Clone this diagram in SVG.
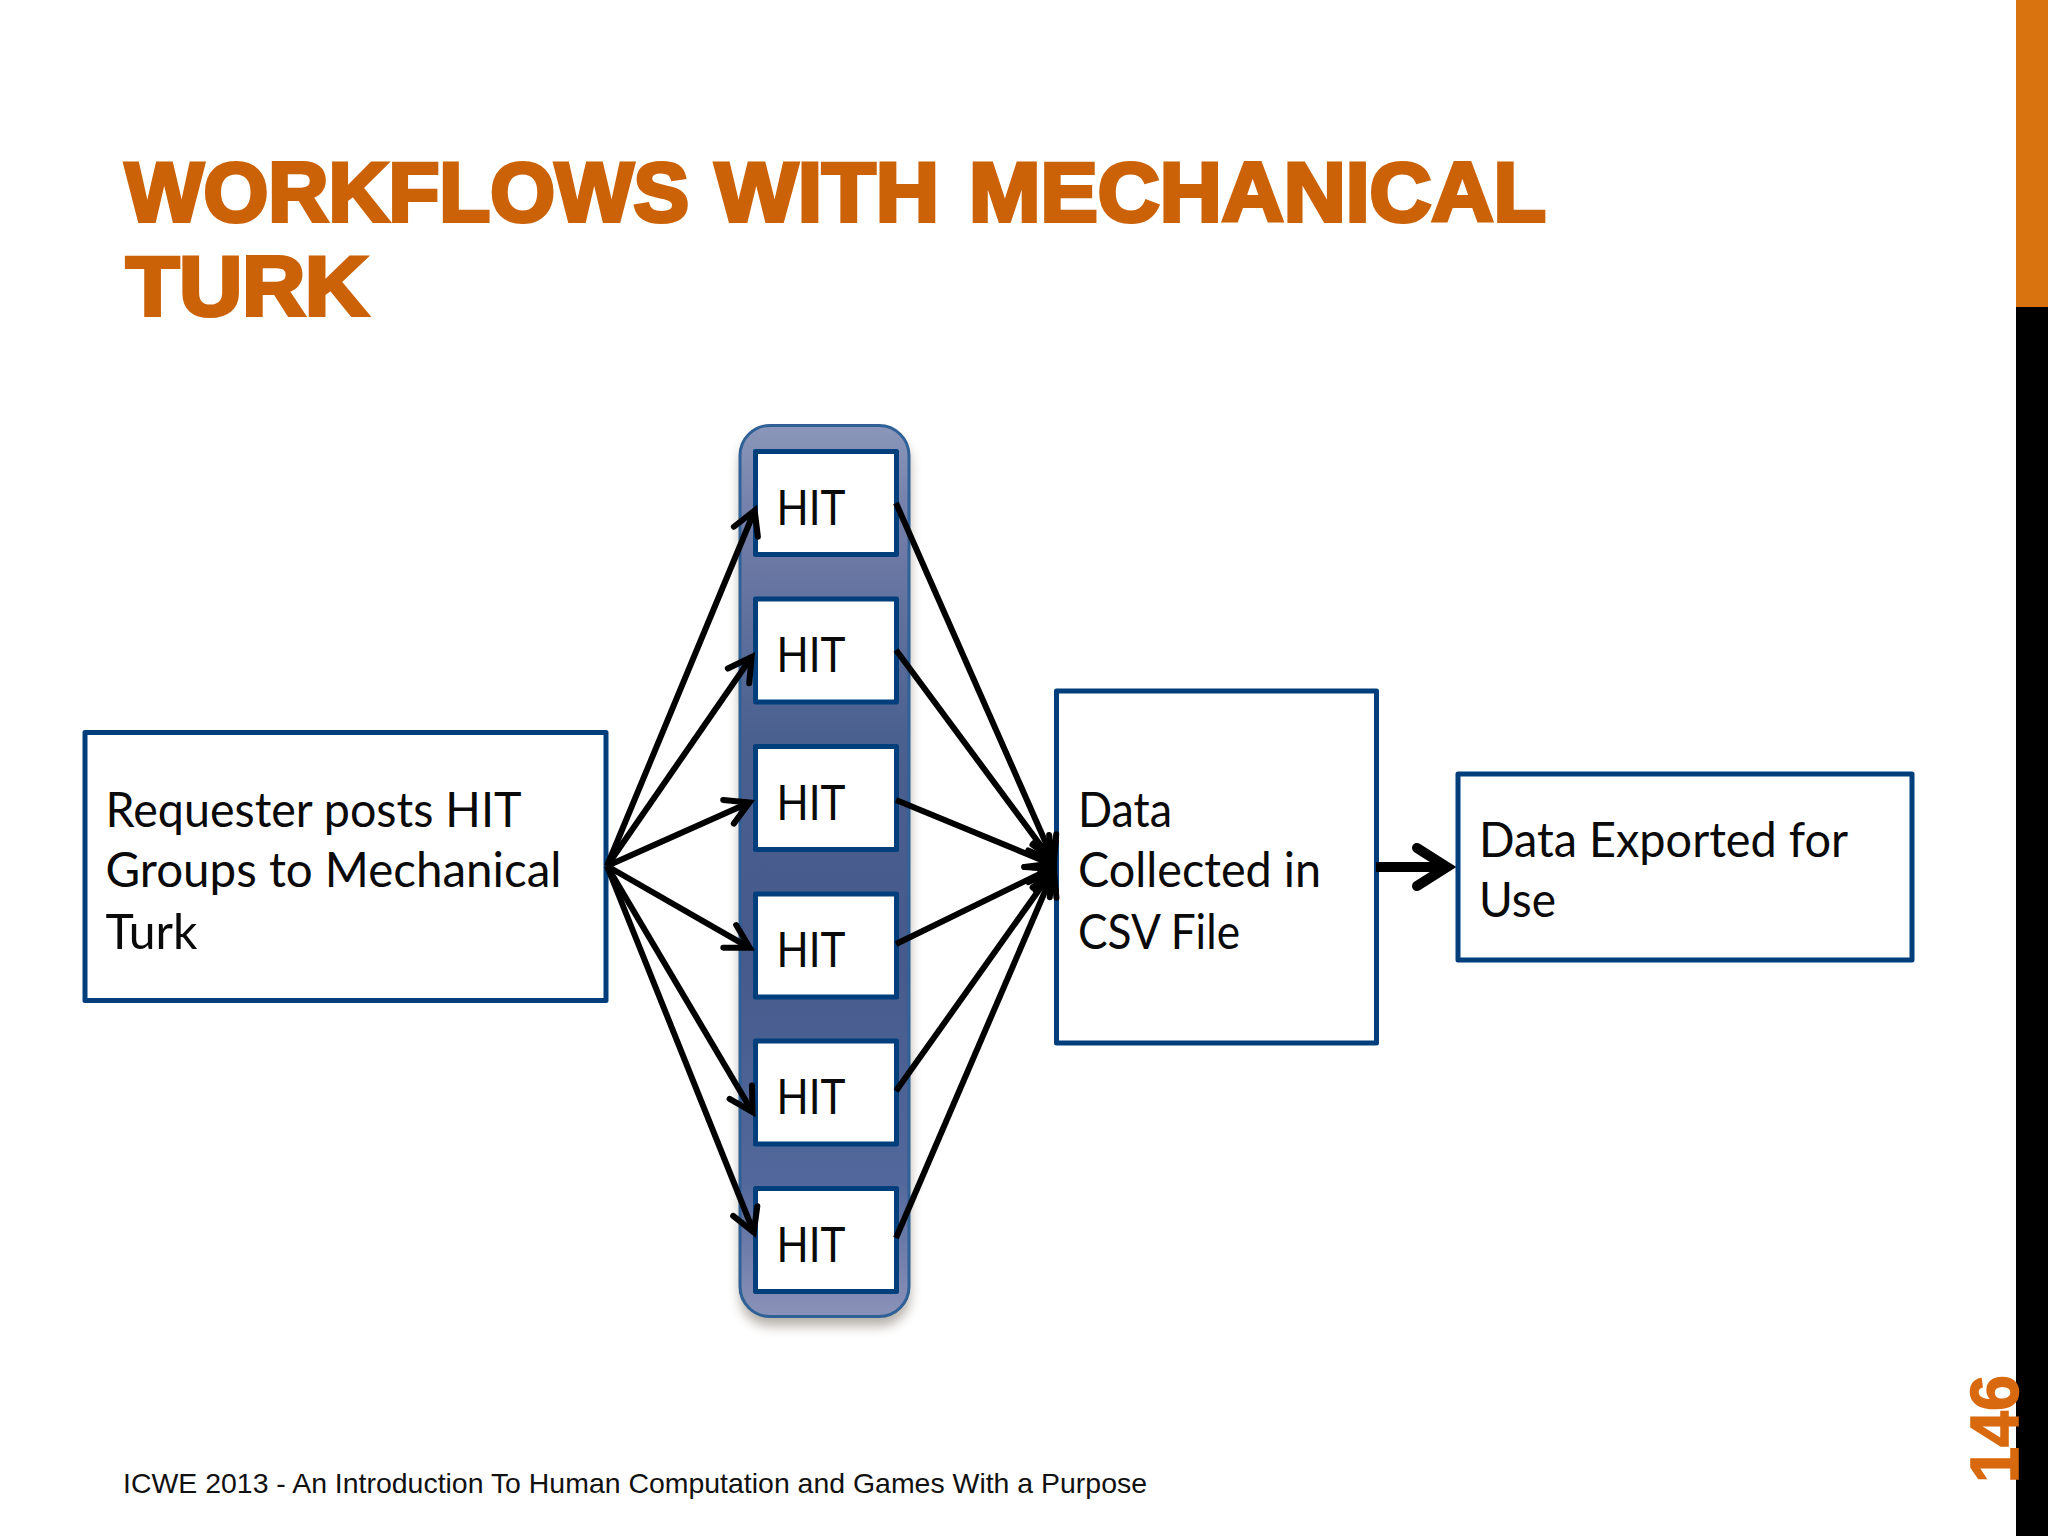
<svg xmlns="http://www.w3.org/2000/svg" width="2048" height="1536" viewBox="0 0 2048 1536">
<style>
.box{fill:#fff;stroke:#003e7c;stroke-width:5;stroke-linejoin:round}
.t{font-family:"Lato","Noto Sans",sans-serif;font-size:48px;fill:#0a0a0a}
.title{font-family:"Liberation Sans",Arial,sans-serif;font-weight:bold;font-size:84px;fill:#cc6208;stroke:#cc6208;stroke-width:4}
.conn{fill:none;stroke:#000;stroke-width:6;marker-end:url(#arrow)}
</style>
<defs>
<linearGradient id="g" x1="0" y1="0" x2="0" y2="1">
<stop offset="0" stop-color="#8b96ba"/><stop offset="0.1" stop-color="#737fa9"/><stop offset="0.35" stop-color="#4a608f"/><stop offset="0.6" stop-color="#465a8b"/><stop offset="0.85" stop-color="#52689c"/><stop offset="1" stop-color="#8b92b8"/>
</linearGradient>
<filter id="sh" x="-30%" y="-5%" width="160%" height="110%"><feGaussianBlur stdDeviation="6"/></filter>
<marker id="arrow" markerUnits="userSpaceOnUse" markerWidth="44" markerHeight="44" refX="32" refY="22" orient="auto" overflow="visible">
<path d="M9 9 L32 22 L9 35" fill="none" stroke="#000" stroke-width="6" stroke-linecap="round"/>
</marker>
<marker id="big" markerUnits="userSpaceOnUse" markerWidth="70" markerHeight="70" refX="50" refY="35" orient="auto" overflow="visible">
<path d="M20 16 L50 35 L20 54" fill="none" stroke="#000" stroke-width="10" stroke-linecap="round"/>
</marker>
</defs>
<rect width="2048" height="1536" fill="#fff"/>
<rect id="bar-orange" x="2016" y="0" width="32" height="307" fill="#d9730f"/>
<rect id="bar-black" x="2016" y="307" width="32" height="1229" fill="#000"/>
<g id="title"><text class="title" x="125" y="221"><tspan x="125" textLength="564" lengthAdjust="spacingAndGlyphs">WORKFLOWS</tspan> <tspan x="715" textLength="224" lengthAdjust="spacingAndGlyphs">WITH</tspan> <tspan x="969" textLength="577" lengthAdjust="spacingAndGlyphs">MECHANICAL</tspan></text><text class="title" x="126" y="315" textLength="242" lengthAdjust="spacingAndGlyphs">TURK</text></g>
<g id="container">
<rect x="740" y="434" width="170" height="892" rx="30" fill="#5a5040" opacity="0.45" filter="url(#sh)"/>
<rect x="740" y="425.5" width="169" height="891" rx="30" fill="url(#g)" stroke="#2f6096" stroke-width="3"/>
</g>
<g id="requester"><rect class="box" x="85" y="732.5" width="521" height="268"/>
<text class="t" x="105.5" y="827" textLength="416" lengthAdjust="spacingAndGlyphs">Requester posts HIT</text><text class="t" x="105.5" y="887" textLength="456" lengthAdjust="spacingAndGlyphs">Groups to Mechanical</text><text class="t" x="105.5" y="949" textLength="92" lengthAdjust="spacingAndGlyphs">Turk</text></g>
<g id="hit1"><rect class="box" x="755.5" y="451.5" width="141" height="103"/><text class="t" x="776.5" y="524.5" textLength="69" lengthAdjust="spacingAndGlyphs">HIT</text></g>
<g id="hit2"><rect class="box" x="755.5" y="599" width="141" height="103"/><text class="t" x="776.5" y="672" textLength="69" lengthAdjust="spacingAndGlyphs">HIT</text></g>
<g id="hit3"><rect class="box" x="755.5" y="746.5" width="141" height="103"/><text class="t" x="776.5" y="819.5" textLength="69" lengthAdjust="spacingAndGlyphs">HIT</text></g>
<g id="hit4"><rect class="box" x="755.5" y="894" width="141" height="103"/><text class="t" x="776.5" y="967" textLength="69" lengthAdjust="spacingAndGlyphs">HIT</text></g>
<g id="hit5"><rect class="box" x="755.5" y="1041" width="141" height="103"/><text class="t" x="776.5" y="1114" textLength="69" lengthAdjust="spacingAndGlyphs">HIT</text></g>
<g id="hit6"><rect class="box" x="755.5" y="1188.5" width="141" height="103"/><text class="t" x="776.5" y="1261.5" textLength="69" lengthAdjust="spacingAndGlyphs">HIT</text></g>
<g id="data"><rect class="box" x="1056.5" y="691" width="320" height="352"/>
<text class="t" x="1078" y="826.5" textLength="94" lengthAdjust="spacingAndGlyphs">Data</text><text class="t" x="1078" y="887" textLength="243" lengthAdjust="spacingAndGlyphs">Collected in</text><text class="t" x="1078" y="949" textLength="162" lengthAdjust="spacingAndGlyphs">CSV File</text></g>
<g id="exported"><rect class="box" x="1458" y="774" width="454" height="186"/>
<text class="t" x="1479" y="857" textLength="369" lengthAdjust="spacingAndGlyphs">Data Exported for</text><text class="t" x="1479" y="917" textLength="77" lengthAdjust="spacingAndGlyphs">Use</text></g>
<g id="connectors">
<line class="conn" x1="607" y1="866" x2="754.7" y2="510.5"/>
<line class="conn" x1="607" y1="866" x2="751.6" y2="657"/>
<line class="conn" x1="607" y1="866" x2="749.5" y2="802.4"/>
<line class="conn" x1="607" y1="866" x2="749.7" y2="947.8"/>
<line class="conn" x1="607" y1="866" x2="752.5" y2="1112"/>
<line class="conn" x1="607" y1="866" x2="753.8" y2="1232.4"/>
<line class="conn" x1="896" y1="503" x2="1053.6" y2="860.5"/>
<line class="conn" x1="896" y1="650" x2="1052.4" y2="861.2"/>
<line class="conn" x1="896" y1="800" x2="1050.5" y2="863.7"/>
<line class="conn" x1="896" y1="944" x2="1050.6" y2="868.6"/>
<line class="conn" x1="896" y1="1091" x2="1052.5" y2="870.9"/>
<line class="conn" x1="896" y1="1238" x2="1053.6" y2="871.5"/>
<path id="merged-arrowheads" d="M1045 841 L1059 840 Q1055 866 1059 893 L1046 891 L1036 878 L1040 860 L1036 850 Z" fill="#000"/>
<line x1="1033" y1="867" x2="1045" y2="867" stroke="#000" stroke-width="7" stroke-linecap="round"/>
<line x1="1376" y1="867" x2="1447" y2="867" fill="none" stroke="#000" stroke-width="10" marker-end="url(#big)"/>
</g>
<text id="footer" x="123" y="1493" font-family="Liberation Sans,Arial,sans-serif" font-size="28.5" fill="#111" textLength="1024" lengthAdjust="spacingAndGlyphs">ICWE 2013 - An Introduction To Human Computation and Games With a Purpose</text>
<text id="page" transform="translate(2018 1483) rotate(-90)" font-family="Liberation Sans,Arial,sans-serif" font-weight="bold" font-size="69" fill="#d9690f" stroke="#d9690f" stroke-width="1.5" textLength="108" lengthAdjust="spacingAndGlyphs">146</text>
</svg>
